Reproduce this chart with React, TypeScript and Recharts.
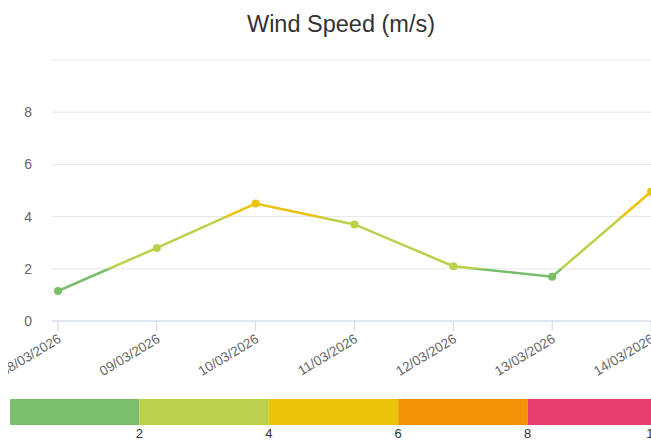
import React from 'react';
import {
  LineChart,
  Line,
  XAxis,
  YAxis,
  CartesianGrid,
  BarChart,
  Bar,
} from 'recharts';

const dates = [
  '08/03/2026',
  '09/03/2026',
  '10/03/2026',
  '11/03/2026',
  '12/03/2026',
  '13/03/2026',
  '14/03/2026',
];
const windSpeed = [1.15, 2.8, 4.5, 3.7, 2.1, 1.7, 4.95];
const yTicks = [0, 2, 4, 6, 8, 10];
const bandLimits = [2, 4, 6, 8, 10];
const bandColors = ['#7abd6b', '#bcd04b', '#edc20b', '#f29306', '#e83e6f'];

const FONT = '"Liberation Sans", Arial, Helvetica, sans-serif';

// plot area (px) so the vertical gradient lines up with the value bands
const PLOT_TOP = 60;
const PLOT_BOTTOM = 321;

const colorFor = (v: number) => {
  const i = bandLimits.findIndex((lim) => v < lim);
  return bandColors[i === -1 ? bandColors.length - 1 : i];
};

const chartData = dates.map((d, i) => ({ date: d, speed: windSpeed[i] }));

const scaleRow = [
  bandLimits.reduce((acc: any, lim, i) => {
    acc['b' + i] = lim - (i === 0 ? 0 : bandLimits[i - 1]);
    return acc;
  }, { name: 'scale' }),
];

const DateTick = ({ x, y, payload }: any) => (
  <g transform={`translate(${x + 2},${y + 5})`}>
    <text
      x={0}
      y={0}
      dy={4}
      textAnchor="end"
      transform="rotate(-31)"
      fill="#666666"
      fontSize={13.5}
      fontFamily={FONT}
    >
      {payload.value}
    </text>
  </g>
);

const SpeedDot = ({ cx, cy, payload }: any) => {
  if (cx == null || cy == null) return null;
  return <circle cx={cx} cy={cy} r={4} fill={colorFor(payload.speed)} />;
};

export default function App() {
  return (
    // the chart box is clipped at the body margin, like the original
    <div
      style={{
        position: 'absolute',
        left: 8,
        top: 0,
        width: 643,
        height: 443,
        overflow: 'hidden',
        background: '#fff',
        fontFamily: FONT,
      }}
    >
      <div style={{ position: 'absolute', left: -8, top: 0, width: 660, height: 443 }}>
        <div
          style={{
            position: 'absolute',
            top: 9,
            left: 0,
            width: 682,
            textAlign: 'center',
            fontSize: 23.5,
            lineHeight: '30px',
            color: '#333333',
          }}
        >
          Wind Speed (m/s)
        </div>

        <div style={{ position: 'absolute', left: 0, top: 0 }}>
          <LineChart
            width={660}
            height={385}
            data={chartData}
            margin={{ top: PLOT_TOP, right: 9, left: 0, bottom: 0 }}
          >
            <defs>
              <linearGradient
                id="windGrad"
                gradientUnits="userSpaceOnUse"
                x1={0}
                y1={PLOT_BOTTOM}
                x2={0}
                y2={PLOT_TOP}
              >
                {bandColors.map((c, i) => {
                  const lo = i === 0 ? 0 : bandLimits[i - 1];
                  const hi = bandLimits[i];
                  return (
                    <React.Fragment key={c}>
                      <stop offset={lo / 10} stopColor={c} />
                      <stop offset={hi / 10} stopColor={c} />
                    </React.Fragment>
                  );
                })}
              </linearGradient>
            </defs>
            <CartesianGrid vertical={false} stroke="#e6e6e6" />
            <XAxis
              dataKey="date"
              interval={0}
              padding={{ left: 6, right: 0 }}
              height={64}
              axisLine={{ stroke: '#ccd6eb' }}
              tickLine={{ stroke: '#ccd6eb' }}
              tickSize={10}
              tick={<DateTick />}
            />
            <YAxis
              width={52}
              domain={[0, 10]}
              ticks={yTicks}
              axisLine={false}
              tickLine={false}
              tickSize={0}
              tickMargin={20}
              tick={{ fill: '#666666', fontSize: 14, fontFamily: FONT }}
              tickFormatter={(v) => (v === 10 ? '' : String(v))}
            />
            <Line
              type="linear"
              dataKey="speed"
              stroke="url(#windGrad)"
              strokeWidth={2.5}
              dot={<SpeedDot />}
              activeDot={false}
              isAnimationActive={false}
            />
          </LineChart>
        </div>

        <div style={{ position: 'absolute', left: 0, top: 395 }}>
          <BarChart
            width={660}
            height={48}
            layout="vertical"
            data={scaleRow}
            barCategoryGap={0}
            margin={{ top: 4, right: 3, left: 10, bottom: 0 }}
          >
            <XAxis
              type="number"
              domain={[0, 10]}
              ticks={bandLimits}
              axisLine={false}
              tickLine={false}
              tickSize={0}
              tickMargin={4}
              height={18}
              tick={{ fill: '#333333', fontSize: 13, fontFamily: FONT }}
            />
            <YAxis type="category" dataKey="name" hide />
            {bandColors.map((c, i) => (
              <Bar
                key={c}
                dataKey={'b' + i}
                stackId="scale"
                fill={c}
                isAnimationActive={false}
              />
            ))}
          </BarChart>
        </div>
      </div>
    </div>
  );
}
